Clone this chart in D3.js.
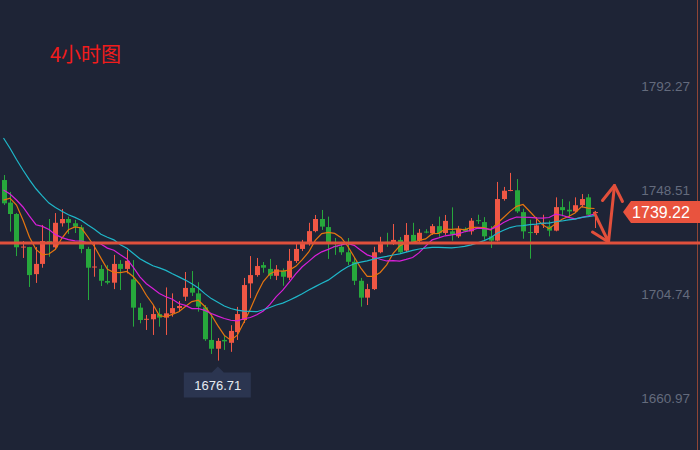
<!DOCTYPE html>
<html>
<head>
<meta charset="utf-8">
<script src="https://cdn.jsdelivr.net/npm/d3@7"></script>
<style>
  html, body { margin: 0; padding: 0; background: #1e2436; }
  svg { display: block; }
</style>
</head>
<body>
<div id="chart"></div>
<script>
// 4h candles (red = up, green = down)
const opens = [1752.7,1743.2,1738.4,1724.4,1724.5,1713.1,1717.4,1727.0,1724.4,1734.5,
  1736.3,1734.5,1732.8,1723.7,1716.0,1715.3,1710.2,1709.5,1717.4,1715.3,
  1710.9,1699.0,1694.1,1694.1,1696.3,1694.8,1696.6,1698.8,1703.6,1707.3,
  1705.0,1699.1,1685.4,1681.7,1685.4,1684.2,1688.7,1693.8,1709.2,1712.7,
  1716.9,1715.3,1712.4,1714.5,1711.6,1718.6,1723.7,1726.5,1731.2,1736.3,
  1732.9,1724.9,1724.6,1722.3,1718.3,1710.3,1703.2,1706.8,1722.3,1726.7,
  1726.1,1727.5,1723.0,1729.6,1727.2,1731.0,1730.3,1733.3,1730.4,1731.1,
  1729.0,1732.2,1731.1,1735.8,1735.0,1729.0,1727.2,1744.7,1748.2,1748.4,
  1739.2,1730.8,1730.4,1734.2,1733.2,1731.4,1741.3,1740.2,1739.5,1742.1,
  1745.4,1738.8];
const highs = [1754.8,1747.7,1738.8,1727.0,1724.6,1724.5,1733.8,1736.3,1738.8,1740.5,
  1737.3,1735.9,1733.8,1724.6,1726.2,1716.9,1716.9,1721.2,1719.0,1723.3,
  1719.0,1700.9,1695.9,1700.1,1698.8,1707.5,1705.0,1701.8,1714.0,1714.4,
  1709.7,1700.1,1696.3,1686.2,1687.5,1691.6,1699.3,1711.5,1720.7,1719.9,
  1718.2,1719.5,1716.9,1715.5,1723.7,1726.2,1727.5,1734.7,1738.0,1740.1,
  1737.3,1728.3,1726.7,1728.3,1719.9,1711.5,1709.0,1724.6,1728.8,1730.5,
  1734.2,1728.7,1734.6,1734.7,1732.1,1732.0,1734.2,1737.3,1738.0,1741.2,
  1733.4,1732.8,1736.7,1738.1,1737.1,1733.3,1751.9,1749.8,1755.7,1753.1,
  1740.6,1736.0,1737.1,1738.1,1735.6,1745.4,1744.7,1743.7,1745.4,1746.8,
  1746.8,1739.7];
const lows = [1742.2,1731.0,1720.7,1719.9,1707.7,1709.4,1715.8,1720.4,1723.7,1733.1,
  1730.0,1730.4,1721.9,1702.2,1712.0,1708.1,1708.8,1706.8,1706.4,1713.4,
  1691.0,1692.4,1689.6,1687.5,1691.0,1687.5,1695.2,1697.3,1701.8,1703.9,
  1697.3,1685.0,1679.5,1676.71,1681.2,1680.4,1685.4,1692.5,1703.0,1712.0,
  1713.7,1711.0,1710.6,1708.2,1710.6,1717.8,1722.8,1725.1,1730.7,1731.7,
  1719.5,1721.2,1721.2,1716.9,1708.5,1699.4,1700.1,1706.4,1721.9,1724.6,
  1725.4,1721.6,1722.4,1726.1,1726.6,1730.3,1729.6,1728.8,1729.6,1727.2,
  1728.3,1730.7,1729.7,1734.2,1727.6,1724.1,1726.9,1744.0,1748.0,1738.8,
  1728.0,1719.6,1729.6,1732.5,1729.0,1731.1,1737.4,1737.0,1739.2,1741.2,
  1737.8,1732.5];
const closes = [1742.9,1738.4,1724.4,1724.7,1712.7,1717.4,1727.0,1726.1,1734.7,1736.3,
  1734.7,1733.1,1723.7,1715.8,1716.3,1710.3,1709.5,1717.4,1715.3,1718.7,
  1699.0,1693.8,1694.3,1696.3,1694.8,1696.6,1698.8,1699.7,1707.3,1705.3,
  1699.4,1685.7,1681.7,1685.0,1684.8,1689.2,1696.3,1708.5,1712.7,1716.5,
  1715.8,1712.4,1715.1,1712.0,1718.7,1723.7,1726.5,1731.2,1736.3,1733.1,
  1726.1,1724.5,1722.3,1718.3,1710.3,1703.2,1706.8,1722.3,1726.5,1726.1,
  1727.5,1722.3,1729.6,1726.5,1730.5,1730.7,1733.3,1730.3,1735.5,1729.7,
  1732.1,1731.1,1735.6,1735.5,1729.0,1727.2,1744.7,1748.2,1748.5,1739.5,
  1731.1,1730.5,1733.6,1734.6,1731.4,1741.3,1740.0,1739.5,1742.1,1744.7,
  1738.1,1739.22];
// closes before the visible window, needed for the moving averages
const priorCloses = [1825,1819,1813,1796,1792,1789,1785,1772,1768,1764,
  1755,1750,1754,1751,1753.7,1734.2,1739.2,1756.1,1748.9];

const tickValues = [1660.97, 1704.74, 1748.51, 1792.27];
const lastPrice = 1739.22;
const lowPrice = 1676.71;
const lowIndex = 33;
const linePrice = 1726.2;
const maPeriods = [5, 10, 20];
const maColors = ['#e5750f', '#d81fd8', '#1fb7c9'];

const width = 700;
const height = 450;

const svg = d3.select('#chart')
  .append('svg')
  .attr('width', width)
  .attr('height', height)
  .style('background', '#1e2436');

const x = d3.scaleLinear().domain([0, closes.length - 1]).range([3.5, 594.5]);
const y = d3.scaleLinear().domain([1660.97, 1792.27]).range([398, 86]);

const candles = closes.map((c, i) => ({i, o: opens[i], h: highs[i], l: lows[i], c}));
const up = d => d.c >= d.o;
const red = '#ef5745';
const green = '#27a83c';

// right border line
svg.append('line')
  .attr('x1', 697.5).attr('x2', 697.5)
  .attr('y1', 0).attr('y2', height)
  .attr('stroke', '#8f4536')
  .attr('stroke-width', 1);

// y labels
const axis = svg.append('g')
  .attr('transform', 'translate(690,0)')
  .call(d3.axisLeft(y).tickValues(tickValues).tickSize(0).tickPadding(0).tickFormat(d3.format('.2f')));
axis.select('.domain').remove();
axis.selectAll('text')
  .attr('fill', '#646b7d')
  .attr('font-size', '13.5px')
  .attr('font-family', 'Liberation Sans, Arial, sans-serif');

// candles
const g = svg.append('g');
g.selectAll('line.wick')
  .data(candles)
  .enter()
  .append('line')
  .attr('class', 'wick')
  .attr('x1', d => Math.round(x(d.i)) + 0.5)
  .attr('x2', d => Math.round(x(d.i)) + 0.5)
  .attr('y1', d => y(d.h))
  .attr('y2', d => y(d.l))
  .attr('stroke', d => up(d) ? red : green)
  .attr('stroke-width', 1);

g.selectAll('rect.body')
  .data(candles)
  .enter()
  .append('rect')
  .attr('class', 'body')
  .attr('x', d => Math.round(x(d.i)) - 2)
  .attr('width', 5)
  .attr('y', d => y(Math.max(d.o, d.c)))
  .attr('height', d => Math.max(1, Math.abs(y(d.o) - y(d.c))))
  .attr('fill', d => up(d) ? red : green);

// moving averages
const all = priorCloses.concat(closes);
const off = priorCloses.length;
maPeriods.forEach((n, k) => {
  const pts = closes.map((c, i) => {
    const j = i + off;
    return [i, d3.mean(all.slice(j - n + 1, j + 1))];
  });
  svg.append('path')
    .datum(pts)
    .attr('fill', 'none')
    .attr('stroke', maColors[k])
    .attr('stroke-width', 1.2)
    .attr('d', d3.line().x(d => x(d[0])).y(d => y(d[1])));
});

// horizontal level
svg.append('line')
  .attr('x1', 0).attr('x2', width)
  .attr('y1', y(linePrice)).attr('y2', y(linePrice))
  .attr('stroke', '#e0503c')
  .attr('stroke-width', 3);

// hand drawn arrows
const last = closes.length - 1;
const ax0 = x(last), ay0 = y(lastPrice) + 1;
const ax1 = ax0 + 14, ay1 = y(linePrice) - 1;
const ax2 = ax1 + 6, ay2 = y(1750.4);
const arrows = svg.append('g')
  .attr('fill', 'none')
  .attr('stroke', '#e24f3b')
  .attr('stroke-width', 3)
  .attr('stroke-linecap', 'round')
  .attr('stroke-linejoin', 'round');
arrows.append('path').attr('d', `M${ax0},${ay0} L${ax1},${ay1} L${ax2},${ay2}`);
arrows.append('path').attr('d', `M${ax1 - 16},${ay1 - 10} L${ax1},${ay1}`);
arrows.append('path').attr('d', `M${ax2 - 12},${ay2 + 15} L${ax2},${ay2} L${ax2 + 8},${ay2 + 16}`);

// last price tag
const py = y(lastPrice);
svg.append('path')
  .attr('d', `M623,${py} L631,${py - 11} L700,${py - 11} L700,${py + 11} L631,${py + 11} Z`)
  .attr('fill', '#e9533e');
svg.append('text')
  .attr('x', 661).attr('y', py)
  .attr('dy', '0.36em')
  .attr('text-anchor', 'middle')
  .attr('fill', '#ffffff')
  .attr('font-size', '16px')
  .attr('font-family', 'Liberation Sans, Arial, sans-serif')
  .text(lastPrice.toFixed(2));

// low marker
const lx = x(lowIndex);
const ly = y(lowPrice) + 6;
svg.append('path')
  .attr('d', `M${lx},${ly} L${lx + 6},${ly + 6} L${lx + 33},${ly + 6} L${lx + 33},${ly + 31} L${lx - 34},${ly + 31} L${lx - 34},${ly + 6} L${lx - 6},${ly + 6} Z`)
  .attr('fill', '#2b3550');
svg.append('text')
  .attr('x', lx).attr('y', ly + 18.5)
  .attr('dy', '0.36em')
  .attr('text-anchor', 'middle')
  .attr('fill', '#e6eaf0')
  .attr('font-size', '13px')
  .attr('font-family', 'Liberation Sans, Arial, sans-serif')
  .text(lowPrice.toFixed(2));

// title
svg.append('text')
  .attr('x', 50).attr('y', 62)
  .attr('fill', '#f21c1c')
  .attr('font-size', '20px')
  .attr('font-family', 'Noto Sans CJK SC, sans-serif')
  .text('4小时图');
</script>
</body>
</html>
